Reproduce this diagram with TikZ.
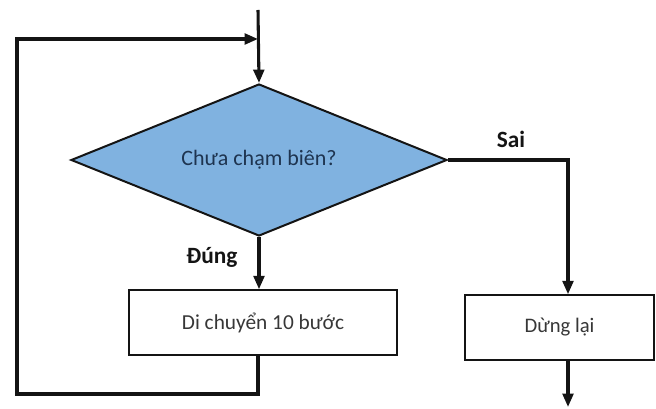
\documentclass[tikz,border=0pt]{standalone}
\usepackage{fontspec}
\setmainfont{Carlito}
\usetikzlibrary{shapes.geometric,arrows.meta,calc}
\definecolor{dfill}{RGB}{128,178,224}
\definecolor{dtext}{RGB}{30,52,80}
\definecolor{btext}{RGB}{55,55,55}
\definecolor{ln}{RGB}{20,20,20}
\begin{document}
\begin{tikzpicture}[x=0.75pt,y=-0.75pt,
  conn/.style={draw=ln,line width=2.3pt,-{Triangle[length=10pt,width=8pt]}},
  decision/.style={diamond,aspect=2.47,draw=ln,line width=1.5pt,fill=dfill,text=dtext,inner sep=0pt,minimum width=282pt,minimum height=114pt,font=\fontsize{16.5}{19}\selectfont},
  procbox/.style={rectangle,draw=ln,line width=1.1pt,fill=white,text=btext,inner sep=0pt,minimum height=48.75pt,font=\fontsize{16}{19}\selectfont},
  lbl/.style={font=\bfseries\fontsize{17.5}{20}\selectfont,text=ln,inner sep=0pt}]
\useasboundingbox (0,0) rectangle (656,409);
\coordinate (top) at (258,10);
\coordinate (jn) at (258,39);
\coordinate (lb) at (17,394);
\coordinate (sc) at (568,0);
\coordinate (endc) at (568,407);
\node[decision] (d) at (259,160) {Chưa chạm biên?};
\node[procbox,minimum width=201pt] (b1) at (263,322.5) {Di chuyển 10 bước};
\node[procbox,minimum width=141.75pt,font=\fontsize{15.5}{18}\selectfont] (b2) at (559.5,327.5) {Dừng lại};
\node[lbl] (sai) at (511,139) {Sai};
\node[lbl] (dung) at (212,257) {Đúng};
\draw[conn] (top) -- (d.north);
\draw[conn] (d.south) -- (b1.north -| d.south);
\draw[conn] (b1.south -| top) |- (lb) |- (jn);
\draw[conn] (d.east) -| (sc |- b2.north);
\draw[conn] (sc |- b2.south) -- (endc);
\end{tikzpicture}
\end{document}
